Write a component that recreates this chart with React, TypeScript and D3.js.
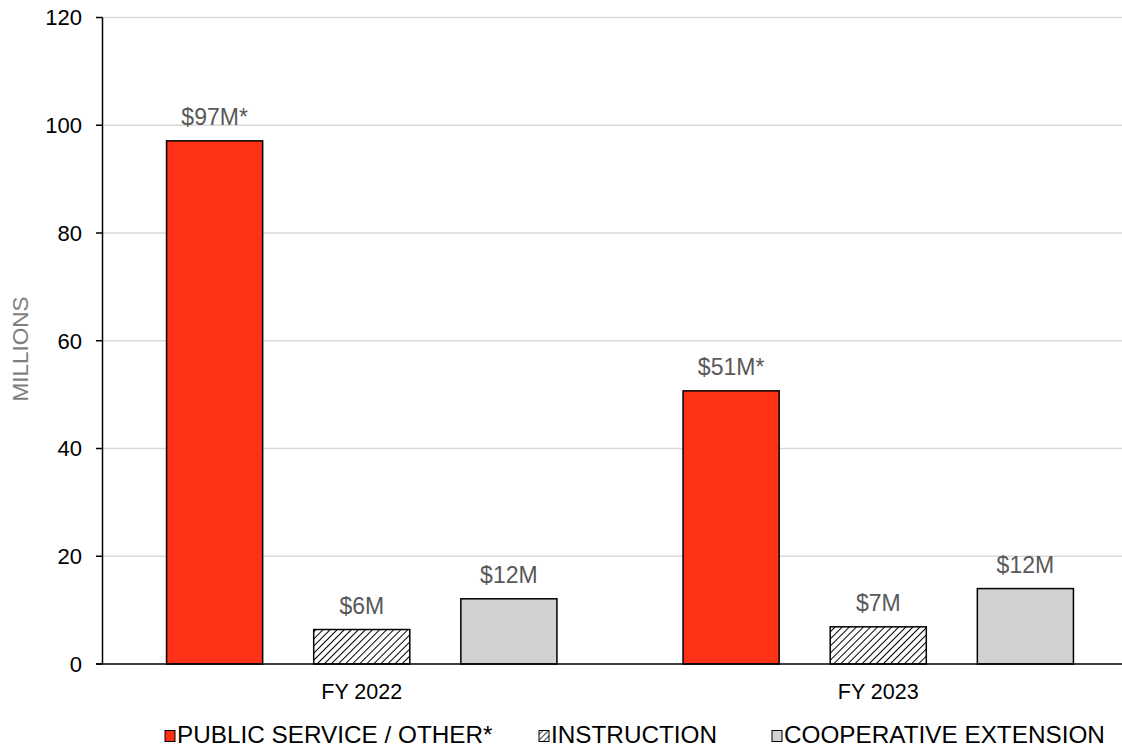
import React from "react";
import * as d3 from "d3";

const categories = ["FY 2022", "FY 2023"];
const seriesNames = ["PUBLIC SERVICE / OTHER*", "INSTRUCTION", "COOPERATIVE EXTENSION"];
const publicService = [97.1, 50.7];
const instruction = [6.4, 6.9];
const cooperative = [12.1, 14.0];
const labelsPublic = ["$97M*", "$51M*"];
const labelsInstruction = ["$6M", "$7M"];
const labelsCooperative = ["$12M", "$12M"];
const yTicks = [0, 20, 40, 60, 80, 100, 120];

const W = 1122;
const H = 748;
const FONT = "'Liberation Sans', Arial, sans-serif";

export default function App() {
  const x0 = d3.scaleBand().domain(categories).range([103.5, 1136.5]).paddingInner(0).paddingOuter(0);
  const x1 = d3.scaleBand().domain(seriesNames).range([0, x0.bandwidth()]).paddingInner(51 / 147).paddingOuter(63 / 147);
  const y = d3.scaleLinear().domain([0, 120]).range([664, 17.5]);

  const series = [
    { name: seriesNames[0], values: publicService, labels: labelsPublic, fill: "#FF3116" },
    { name: seriesNames[1], values: instruction, labels: labelsInstruction, fill: "url(#hatch)" },
    { name: seriesNames[2], values: cooperative, labels: labelsCooperative, fill: "#D0D1D0" },
  ];

  const legendItems = [
    { name: seriesNames[0], fill: "#FF3116", x: 165 },
    { name: seriesNames[1], fill: "url(#hatchSmall)", x: 539 },
    { name: seriesNames[2], fill: "#D0D1D0", x: 772 },
  ];

  return (
    <svg width={W} height={H} style={{ position: "absolute", left: 0, top: 0, fontFamily: FONT }}>
      <defs>
        <pattern id="hatch" patternUnits="userSpaceOnUse" width="5" height="5" patternTransform="rotate(45)">
          <rect width="5" height="5" fill="#fff" />
          <line x1="0" y1="0" x2="0" y2="5" stroke="#000" strokeWidth="2" />
        </pattern>
        <pattern id="hatchSmall" patternUnits="userSpaceOnUse" width="4" height="4" patternTransform="rotate(45)">
          <rect width="4" height="4" fill="#fff" />
          <line x1="0" y1="0" x2="0" y2="4" stroke="#000" strokeWidth="1.5" />
        </pattern>
      </defs>
      <rect width={W} height={H} fill="#fff" />
      {yTicks.map((t) => (
        <g key={t}>
          {t > 0 && <line x1={102.5} x2={W} y1={y(t)} y2={y(t)} stroke="#D9D9D9" strokeWidth={1.5} />}
          <line x1={96} x2={102.5} y1={y(t)} y2={y(t)} stroke="#000" strokeWidth={1.5} />
          <text x={82} y={y(t)} dy="0.36em" textAnchor="end" fontSize={22} fill="#000">
            {t}
          </text>
        </g>
      ))}
      <text
        transform={`translate(28,349) rotate(-90)`}
        textAnchor="middle"
        fontSize={22.5}
        fill="#7F7F7F"
      >
        MILLIONS
      </text>
      {categories.map((c, ci) => (
        <g key={c} transform={`translate(${x0(c)},0)`}>
          {series.map((s) => (
            <g key={s.name}>
              <rect
                x={x1(s.name)}
                width={x1.bandwidth()}
                y={y(s.values[ci])}
                height={y(0) - y(s.values[ci])}
                fill={s.fill}
                stroke="#000"
                strokeWidth={1.5}
              />
              <text
                x={(x1(s.name) as number) + x1.bandwidth() / 2}
                y={y(s.values[ci]) - 16}
                textAnchor="middle"
                fontSize={23}
                fill="#595959"
              >
                {s.labels[ci]}
              </text>
            </g>
          ))}
          <text x={x0.bandwidth() / 2} y={699} textAnchor="middle" fontSize={21.5} fill="#000">
            {c}
          </text>
        </g>
      ))}
      <line x1={102.5} x2={102.5} y1={y(120)} y2={y(0)} stroke="#000" strokeWidth={1.5} />
      <line x1={96} x2={W} y1={y(0)} y2={y(0)} stroke="#000" strokeWidth={1.5} />
      {legendItems.map((l) => (
        <g key={l.name}>
          <rect x={l.x} y={730.5} width={10} height={11} fill={l.fill} stroke="#000" strokeWidth={1} />
          <text x={l.x + 12} y={743} fontSize={24.3} fill="#000">
            {l.name}
          </text>
        </g>
      ))}
    </svg>
  );
}
